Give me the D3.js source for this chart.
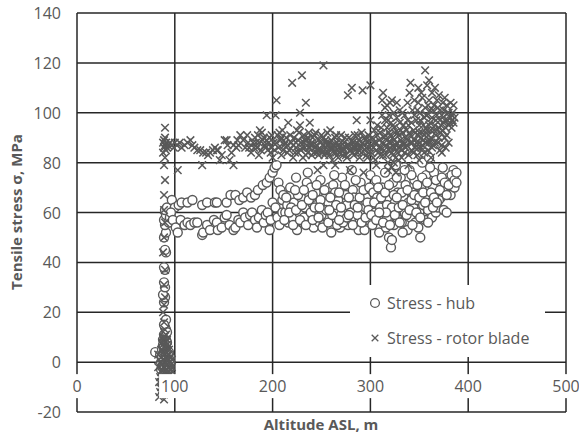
<!DOCTYPE html>
<html>
<head>
<meta charset="utf-8">
<script src="https://cdn.jsdelivr.net/npm/d3@7"></script>
<style>
  html, body { margin: 0; padding: 0; background: #fff; }
  svg { display: block; }
  text { font-family: "Open Sans", "DejaVu Sans", sans-serif; fill: #595959; }
</style>
</head>
<body>
<svg id="chart" width="579" height="437"></svg>
<script>
// Axis ticks
const xTicks = [0, 100, 200, 300, 400, 500];
const yTicks = [-20, 0, 20, 40, 60, 80, 100, 120, 140];

// Series labels
const seriesNames = ["Stress - hub", "Stress - rotor blade"];

// Hub stress: [altitude ASL (m), tensile stress (MPa)]
const hubData = [
  // on the ground
  [80,4],[85,3],[86,0],[87,-2],[88,1],[89,-1],[90,2],[91,-2],[92,0],[93,1],[94,-1],[95,2],
  [87,5],[88,7],[89,4],[90,6],[91,9],[92,5],[93,3],[89,11],[90,14],[91,17],[88,9],[86,-3],[90,-3],[94,-3],
  [87,2],[88,-1],[89,6],[90,10],[91,3],[92,8],[93,-2],[94,4],[95,0],[91,13],[89,15],[92,12],
  // climb
  [89,24],[90,26],[88,27],[90,30],[89,32],[90,37],[89,38],[91,44],[90,45],[89,50],[91,52],[90,55],
  [89,57],[91,59],[90,61],[92,62],
  // low altitude, upper row
  [97,65],[100,62],[104,63],[107,64],[113,64],[118,65],[128,63],[133,64],[141,64],[143,64],[153,64],
  [157,67],[162,67],[166,65],[170,66],[174,68],[178,66],[182,67],[185,69],
  // low altitude, lower row
  [94,56],[95,58],[96,60],[98,57],[101,54],[103,52],[106,57],[110,55],[113,56],[116,55],[120,56],
  [123,56],[128,51],[129,52],[133,55],[136,53],[140,57],[143,56],[144,53],[148,54],[151,58],[153,59],
  [156,55],[160,53],[162,54],[165,57],[167,56],[170,60],[172,58],[175,55],[177,59],[179,60],[182,57],
  [184,54],[186,58],[189,61],[191,56],[193,59],[195,60],[197,53],[198,57],
  // rise near 200 m
  [190,71],[194,72],[197,74],[200,76],[202,78],[204,79],[206,72],[208,69],[210,65],[200,64],[203,62],
  [205,58],[207,55],[210,60],[213,60],[211,67],[215,63],
  // 215-300 m
  [216,56],[218,70],[220,58],[222,64],[224,74],[225,53],[227,60],[229,66],[231,56],[233,62],[235,72],
  [236,76],[238,58],[240,64],[242,54],[244,68],[246,60],[248,56],[249,73],[251,62],[252,55],[254,66],
  [256,58],[258,70],[260,52],[262,71],[263,61],[265,57],[267,65],[269,54],[271,74],[273,60],[275,67],
  [277,55],[279,62],[281,77],[282,69],[284,58],[286,64],[288,53],[290,72],[292,60],[294,53],[296,66],
  [298,57],[300,75],[300,62],
  [219,62],[226,67],[232,58],[239,70],[245,63],[250,59],[257,64],[264,68],[270,59],[276,63],[283,66],
  [289,57],[295,62],
  [212,57],[214,66],[217,60],[221,55],[223,69],[224,61],[228,57],[230,63],[232,69],[234,55],[237,65],
  [239,60],[241,57],[243,62],[245,71],[247,58],[249,65],[251,54],[253,69],[255,61],[257,56],[259,66],
  [261,59],[263,75],[265,63],[266,55],[268,68],[270,62],[272,56],[274,71],[276,58],[278,66],[280,60],
  [282,55],[284,63],[285,73],[287,59],[289,66],[291,56],[293,69],[295,58],[297,64],[299,70],
  [298,61],[287,62],[278,59],[268,57],[258,61],[248,62],[241,67],
  // 300-390 m
  [302,55],[303,68],[305,60],[306,73],[308,64],[309,52],[311,58],[312,70],[314,62],[315,76],[316,54],
  [318,66],[319,50],[320,60],[321,46],[322,49],[323,72],[324,55],[325,64],[326,79],[327,58],[328,68],
  [330,62],[331,74],[332,56],[334,66],[335,60],[336,71],[338,53],[339,64],[340,77],[341,58],[343,68],
  [344,62],[345,73],[346,56],[348,65],[349,54],[350,60],[351,50],[352,70],[353,80],[354,63],[355,84],
  [356,57],[357,75],[358,67],[359,61],[360,82],[361,72],[362,64],[363,58],[365,76],[366,68],[367,60],
  [369,62],[370,72],[372,66],[374,78],[375,61],[377,70],[378,60],[380,74],[382,67],[384,72],[385,77],
  [386,70],[370,65],[364,70],[342,75],[333,52],[317,58],[307,66],
  [301,59],[304,64],[306,57],[308,70],[310,62],[311,66],[313,56],[315,68],[317,63],[319,71],[320,55],
  [322,62],[324,67],[325,59],[327,74],[329,62],[330,56],[332,68],[333,63],[335,77],[337,59],[338,69],
  [340,61],[342,65],[343,55],[345,67],[347,60],[348,71],[350,66],[351,58],[353,74],[354,68],[356,64],
  [358,72],[359,56],[361,78],[362,68],[364,62],[365,66],[367,73],[368,64],[371,69],[373,74],[376,72],
  [378,67],[380,71],[383,75],[386,73],[388,72],[388,76],[327,66],[316,60],[309,60]
];

// Rotor blade stress: [altitude ASL (m), tensile stress (MPa)]
const bladeData = [
  // on the ground
  [85,-12],[86,-10],[87,-8],[88,-6],[89,-13],[90,-9],[91,-5],[92,-3],[93,-7],[94,-2],[86,-4],[87,-1],
  [88,1],[89,3],[90,0],[91,2],[92,4],[93,1],[94,3],[95,0],[86,2],[87,5],[88,7],[89,9],[90,6],[91,8],
  [92,5],[93,6],[87,-3],[88,-2],[89,-4],[90,-2],[91,-1],[92,-1],[93,-4],[94,-5],[95,-3],[96,-1],
  [84,-14],[89,-15],[86,0],[88,4],[90,3],[92,2],[94,1],
  [85,-6],[86,-8],[87,-11],[88,-9],[89,-7],[90,-11],[91,-8],[92,-6],[93,-10],[94,-8],[95,-5],[96,-3],
  [86,5],[87,8],[88,10],[89,6],[90,8],[91,4],[92,7],[93,3],[94,5],[95,2],[91,11],[92,9],
  [83,-2],[84,1],[83,3],[97,1],[97,-2],[84,-8],
  // climb
  [89,10],[90,13],[89,16],[88,20],[89,23],[90,26],[89,31],[90,37],[88,44],[89,50],[90,56],[89,61],
  [89,67],[90,73],[89,79],[90,82],[88,84],[89,86],[90,87],[91,88],[89,89],[90,90],[92,86],[91,85],
  [90,94],[93,87],[88,88],
  // 95-220 m
  [95,88],[97,87],[99,86],[100,88],[102,87],[103,77],[105,88],[107,86],[110,87],[113,88],[116,89],
  [118,87],[120,86],[123,85],[126,85],[128,79],[129,84],[132,84],[134,83],[136,84],[139,85],[141,86],
  [143,85],[144,85],[146,81],[148,83],[151,89],[153,89],[154,87],[156,81],[158,84],[160,79],[160,87],
  [163,86],[164,89],[165,87],[167,91],[170,89],[172,86],[174,91],[175,88],[176,86],[178,84],[180,88],
  [182,90],[184,86],[186,83],[187,93],[189,92],[190,89],[192,87],[194,99],[195,85],[197,90],[198,84],
  [200,82],[201,88],[203,99],[204,105],[205,91],[206,86],[208,89],[209,83],[210,93],[212,87],[214,90],
  [216,96],[217,85],[219,88],
  [181,86],[183,88],[185,91],[188,85],[191,90],[193,86],[196,88],[199,91],[202,85],[207,92],[211,85],
  [213,88],[215,84],[218,91],[186,88],[194,89],[199,86],[204,88],[209,90],[215,87],
  // 220-300 m
  [220,112],[221,82],[222,90],[224,86],[225,93],[226,84],[228,100],[228,95],[229,88],[230,115],[231,82],
  [232,91],[233,86],[234,104],[235,89],[236,84],[237,92],[238,96],[239,87],[240,83],[241,90],[243,86],
  [244,92],[245,84],[246,77],[247,89],[248,85],[250,91],[251,87],[252,119],[252,79],[253,83],[254,89],
  [255,86],[256,92],[257,84],[258,88],[259,93],[260,85],[261,81],[262,87],[264,79],[264,90],[265,84],
  [266,88],[267,82],[268,86],[270,91],[271,85],[272,83],[273,88],[275,86],[276,82],[277,107],[278,90],
  [279,77],[280,85],[281,110],[282,88],[283,83],[284,91],[285,86],[286,97],[287,84],[288,89],[289,82],
  [290,87],[291,92],[292,109],[293,76],[294,85],[295,89],[296,83],[297,88],[298,91],[299,86],[300,111],
  [300,97],[301,84],
  [221,87],[223,84],[226,89],[227,92],[230,86],[232,88],[234,83],[236,90],[238,86],[240,88],[242,84],
  [243,91],[245,87],[247,83],[249,88],[250,85],[252,90],[254,84],[256,87],[258,83],[260,89],[261,86],
  [263,84],[265,91],[267,87],[269,84],[270,88],[272,86],[274,90],[275,83],[277,87],[279,85],[281,89],
  [282,84],[284,86],[286,88],[287,91],[289,86],[291,84],[292,88],[294,90],[296,86],[297,82],[299,89],
  [224,88],[229,85],[233,89],[237,86],[241,87],[246,85],[251,84],[255,88],[259,86],[263,87],[268,84],
  [273,85],[278,87],[283,86],[288,85],[293,87],[298,84],
  // 300-390 m
  [302,90],[303,86],[304,93],[305,81],[306,88],[307,95],[308,84],[309,89],[310,92],[311,86],[312,99],
  [313,108],[313,83],[314,90],[315,102],[316,87],[317,94],[318,80],[318,97],[319,85],[320,104],[320,91],
  [321,88],[322,105],[322,78],[323,95],[323,83],[324,100],[324,89],[325,86],[325,92],[326,76],[327,98],
  [327,88],[328,84],[329,91],[330,86],[331,93],[332,82],[333,88],[334,95],[335,84],[336,90],[337,87],
  [338,97],[339,83],[340,108],[340,92],[341,88],[342,85],[343,101],[344,93],[345,89],[346,86],[347,97],
  [348,91],[348,83],[349,104],[350,95],[350,88],[351,100],[352,86],[353,106],[353,92],[354,89],[355,98],
  [355,84],[356,117],[356,102],[357,94],[357,88],[358,111],[358,99],[359,91],[359,85],[360,105],[360,95],
  [361,89],[361,101],[362,93],[363,98],[364,87],[365,103],[366,95],[367,91],[368,99],[369,88],[370,107],
  [370,94],[371,101],[372,92],[373,87],[374,104],[375,96],[376,90],[378,91],[379,100],[380,95],[382,98],
  [383,99],[384,97],[385,103],[373,84],[377,86],[386,98],[318,77],[324,80],
  [301,87],[303,82],[304,88],[306,85],[307,91],[309,86],[310,83],[311,94],[312,88],[314,85],[315,91],
  [316,83],[317,89],[319,92],[320,86],[321,96],[322,84],[323,90],[324,94],[326,87],[326,82],[328,92],
  [329,86],[330,96],[331,89],[332,85],[333,92],[334,87],[335,99],[336,86],[337,93],[338,89],[339,95],
  [341,91],[342,96],[343,88],[344,84],[345,99],[346,92],[347,88],[348,101],[349,86],[350,92],[351,97],
  [352,90],[353,87],[354,95],[355,91],[356,88],[357,99],[358,93],[359,103],[360,88],[361,96],[362,90],
  [363,86],[364,101],[365,93],[366,88],[367,97],[368,93],[369,102],[370,90],[371,97],[372,95],[373,99],
  [374,93],[375,101],[376,97],[377,94],[378,103],[379,97],[380,100],[381,96],[383,94],[384,100],[385,96],
  [382,104],[376,106],[368,105],[363,108],[352,108],[345,105],[338,104],[330,101],[327,104],[317,103],
  [312,105],[366,110],[349,110],[341,112],[360,113],[315,97],[319,99],[333,100],[319,88],[329,81],
  [306,79],[339,79],[350,81],[362,82],[371,85],[380,88]
];

const svg = d3.select("#chart");
const margin = { left: 77, right: 13, top: 13, bottom: 25 };
const W = 579, H = 437;

const x = d3.scaleLinear().domain([0, 500]).range([margin.left, W - margin.right]);
const y = d3.scaleLinear().domain([-20, 140]).range([H - margin.bottom, margin.top]);

const gridColor = "#262626";
const markColor = "#595959";

// Grid (the outer gridlines form the frame of the plot area)
const grid = svg.append("g");
grid.selectAll("line.h").data(yTicks).join("line")
  .attr("x1", x(0)).attr("x2", x(500))
  .attr("y1", d => y(d)).attr("y2", d => y(d))
  .attr("stroke", gridColor).attr("stroke-width", 1.5);
grid.selectAll("line.v").data(xTicks).join("line")
  .attr("x1", d => x(d)).attr("x2", d => x(d))
  .attr("y1", y(-20)).attr("y2", y(140))
  .attr("stroke", gridColor).attr("stroke-width", 1.5);

// Hub markers: open circles
svg.append("g").selectAll("circle").data(hubData).join("circle")
  .attr("cx", d => x(d[0])).attr("cy", d => y(d[1])).attr("r", 4.5)
  .attr("fill", "#fff").attr("stroke", markColor).attr("stroke-width", 1.4);

// Rotor blade markers: crosses
const cross = (cx, cy, s) =>
  `M${cx - s},${cy - s}L${cx + s},${cy + s}M${cx - s},${cy + s}L${cx + s},${cy - s}`;
svg.append("g").selectAll("path").data(bladeData).join("path")
  .attr("d", d => cross(x(d[0]), y(d[1]), 3.8))
  .attr("fill", "none").attr("stroke", markColor).attr("stroke-width", 1.5);

// X tick labels sit on the zero line, each on a white patch
const xLab = svg.append("g");
xTicks.forEach(t => {
  const g = xLab.append("g");
  const txt = g.append("text")
    .attr("x", x(t)).attr("y", y(0) + 30)
    .attr("text-anchor", "middle").attr("font-size", 16)
    .text(t);
  const b = txt.node().getBBox();
  g.insert("rect", "text")
    .attr("x", b.x - 2).attr("y", b.y - 1)
    .attr("width", b.width + 4).attr("height", b.height + 2)
    .attr("fill", "#fff");
});

// Y tick labels
svg.append("g").selectAll("text").data(yTicks).join("text")
  .attr("x", x(0) - 16).attr("y", d => y(d) + 6)
  .attr("text-anchor", "end").attr("font-size", 16)
  .text(d => d);

// Axis titles
svg.append("text")
  .attr("x", 321).attr("y", 430)
  .attr("text-anchor", "middle").attr("font-size", 15).attr("font-weight", "bold")
  .text("Altitude ASL, m");
svg.append("text")
  .attr("transform", `translate(22,${212}) rotate(-90)`)
  .attr("text-anchor", "middle").attr("font-size", 15).attr("font-weight", "bold")
  .text("Tensile stress σ, MPa");

// Legend
const lg = svg.append("g");
lg.append("rect").attr("x", 350).attr("y", 285).attr("width", 195).attr("height", 72).attr("fill", "#fff");
lg.append("circle").attr("cx", 375).attr("cy", 303).attr("r", 4.4)
  .attr("fill", "#fff").attr("stroke", markColor).attr("stroke-width", 1.3);
lg.append("path").attr("d", cross(375, 338, 3.3))
  .attr("fill", "none").attr("stroke", markColor).attr("stroke-width", 1.3);
lg.selectAll("text").data(seriesNames).join("text")
  .attr("x", 387).attr("y", (d, i) => 309 + i * 35)
  .attr("font-size", 16)
  .text(d => d);
</script>
</body>
</html>
